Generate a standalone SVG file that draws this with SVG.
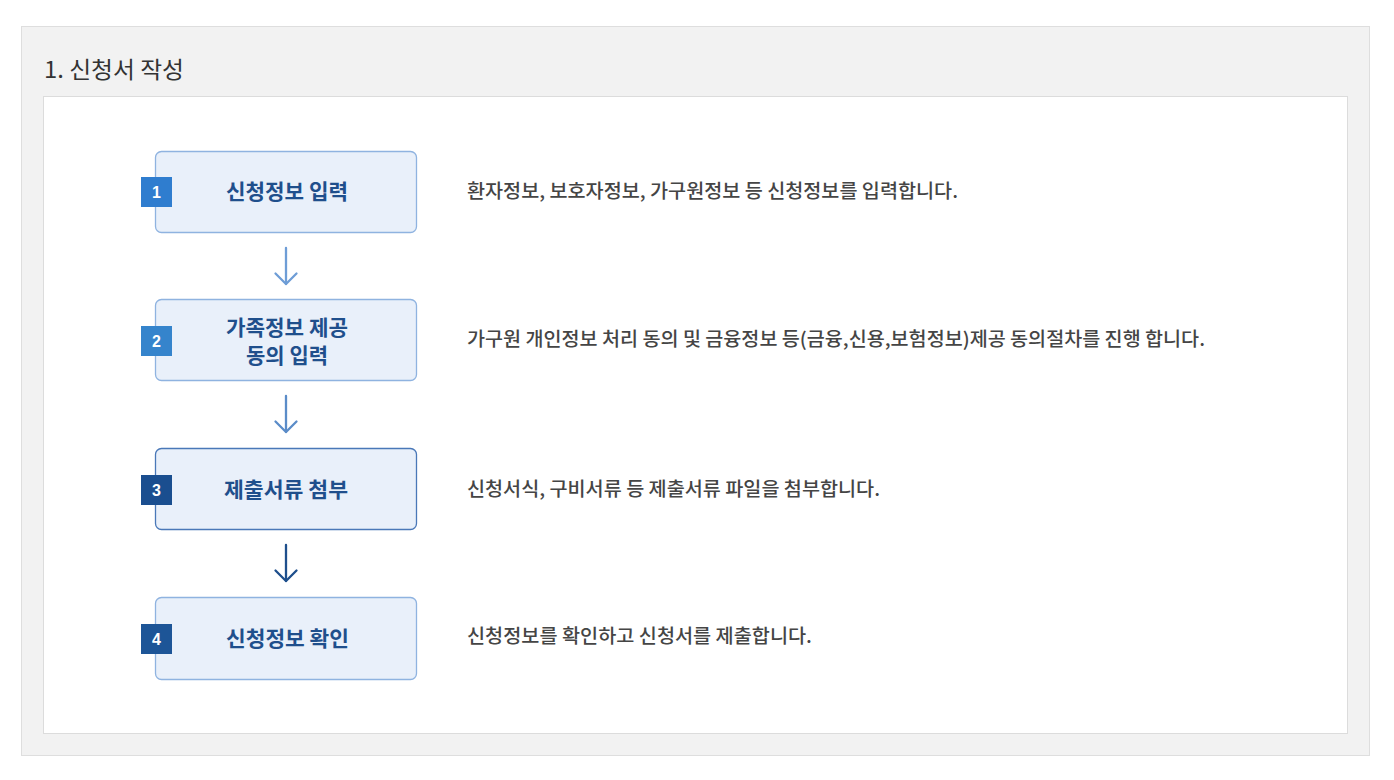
<svg xmlns="http://www.w3.org/2000/svg" width="1394" height="780" viewBox="0 0 1394 780">
<style>
text{font-family:"Noto Sans CJK KR","Noto Sans",sans-serif}
.box{fill:#e9f0fa;stroke:#8fb3e0;stroke-width:1.3}
.box.dark{stroke:#4a78b8}
.ttl{font-size:21px;font-weight:700;fill:#1f4f8c;text-anchor:middle}
.num{font-size:16px;font-weight:700;fill:#fff;text-anchor:middle;font-family:"Liberation Sans",sans-serif}
.desc{font-size:19px;font-weight:500;fill:#454545}
.arr{fill:none;stroke-width:2.3;stroke-linecap:round;stroke-linejoin:round}
</style>
<rect x="0" y="0" width="1394" height="780" fill="#ffffff"/>
<rect x="21.5" y="26.5" width="1348" height="729" fill="#f2f2f2" stroke="#dedede"/>
<text x="44" y="78" font-size="23" fill="#333" textLength="140" lengthAdjust="spacingAndGlyphs">1. 신청서 작성</text>
<rect x="43.5" y="96.5" width="1304" height="637" fill="#ffffff" stroke="#dcdcdc"/>

<g id="connectors">
<g stroke="#6e9dd6" class="arr"><path d="M286 248V284"/><path d="M275.5 273.5L286 284L296.5 273.5"/></g>
<g stroke="#5b8cc8" class="arr"><path d="M286 396V432"/><path d="M275.5 421.5L286 432L296.5 421.5"/></g>
<g stroke="#1e4f8c" class="arr"><path d="M286 545V581"/><path d="M275.5 570.5L286 581L296.5 570.5"/></g>
</g>

<g id="node1">
<rect class="box" x="155.5" y="151.5" width="261" height="81" rx="6"/>
<rect x="141" y="177" width="31" height="30" fill="#2f7dcf"/>
<text class="num" x="156.5" y="198">1</text>
<text class="ttl" x="287" y="199" textLength="122" lengthAdjust="spacingAndGlyphs">신청정보 입력</text>
<text class="desc" x="467" y="198" textLength="491" lengthAdjust="spacingAndGlyphs">환자정보, 보호자정보, 가구원정보 등 신청정보를 입력합니다.</text>
</g>
<g id="node2">
<rect class="box" x="155.5" y="299.5" width="261" height="81" rx="6"/>
<rect x="141" y="326" width="31" height="30" fill="#3584cc"/>
<text class="num" x="156.5" y="347">2</text>
<text class="ttl" x="287" y="335" textLength="122" lengthAdjust="spacingAndGlyphs">가족정보 제공</text>
<text class="ttl" x="287" y="363" textLength="82" lengthAdjust="spacingAndGlyphs">동의 입력</text>
<text class="desc" x="467" y="346" textLength="738" lengthAdjust="spacingAndGlyphs">가구원 개인정보 처리 동의 및 금융정보 등(금융,신용,보험정보)제공 동의절차를 진행 합니다.</text>
</g>
<g id="node3">
<rect class="box dark" x="155.5" y="448.5" width="261" height="81" rx="6"/>
<rect x="141" y="475" width="31" height="30" fill="#1a4e8f"/>
<text class="num" x="156.5" y="496">3</text>
<text class="ttl" x="286" y="497" textLength="124" lengthAdjust="spacingAndGlyphs">제출서류 첨부</text>
<text class="desc" x="467" y="496" textLength="413" lengthAdjust="spacingAndGlyphs">신청서식, 구비서류 등 제출서류 파일을 첨부합니다.</text>
</g>
<g id="node4">
<rect class="box" x="155.5" y="597.5" width="261" height="82" rx="6"/>
<rect x="141" y="624" width="31" height="30" fill="#1d5597"/>
<text class="num" x="156.5" y="645">4</text>
<text class="ttl" x="287.5" y="646" textLength="123" lengthAdjust="spacingAndGlyphs">신청정보 확인</text>
<text class="desc" x="467" y="643" textLength="345" lengthAdjust="spacingAndGlyphs">신청정보를 확인하고 신청서를 제출합니다.</text>
</g>
</svg>
